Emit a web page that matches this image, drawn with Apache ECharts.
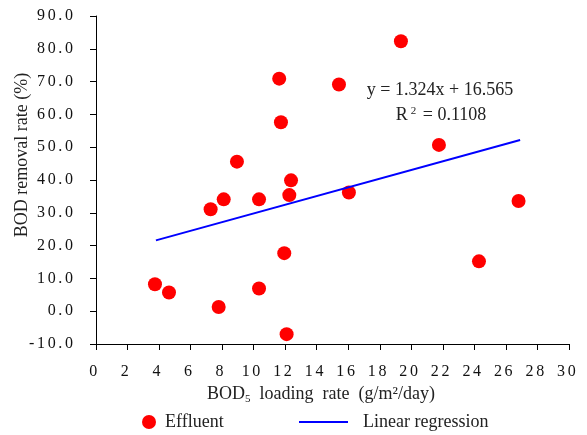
<!DOCTYPE html>
<html>
<head>
<meta charset="utf-8">
<script src="https://cdn.jsdelivr.net/npm/echarts@6/dist/echarts.min.js"></script>
<style>html,body{margin:0;padding:0;background:#fff;}#c{width:587px;height:435px;}</style>
</head>
<body>
<div id="c"></div>
<script>
// Effluent scatter: BOD5 loading rate (g/m2/day) vs BOD removal rate (%)
const loadingRate = [3.74, 4.63, 7.27, 7.78, 8.10, 8.94, 10.34, 10.34, 11.62, 11.73, 11.94, 12.09, 12.26, 12.37, 15.41, 16.04, 19.34, 21.75, 24.29, 26.8];
const removalRate = [8.2, 5.7, 31.1, 1.3, 34.1, 45.6, 34.1, 6.9, 70.9, 57.6, 17.7, -7.0, 35.4, 39.9, 69.1, 36.2, 82.3, 50.7, 15.2, 33.6];
// Linear regression line endpoints
const regX = [3.8, 26.9];
const regY = [21.6, 52.2];
const xTicks = [0, 2, 4, 6, 8, 10, 12, 14, 16, 18, 20, 22, 24, 26, 28, 30];
const yTicks = [-10, 0, 10, 20, 30, 40, 50, 60, 70, 80, 90];
const eqText = 'y = 1.324x + 16.565';
const r2Value = ' = 0.1108';

const FONT = '"Liberation Serif", "DejaVu Serif", serif';
const HS = '\u200A\u200A';
const spaced = s => String(s).split('').join(HS);
const chart = echarts.init(document.getElementById('c'), null, {renderer: 'canvas'});
const scatterData = loadingRate.map((x, i) => [x, removalRate[i]]);
const regData = regX.map((x, i) => [x, regY[i]]);

chart.setOption({
  animation: false,
  backgroundColor: '#fff',
  grid: {left: 96, right: 18, top: 16, bottom: 91},
  xAxis: {
    type: 'value', min: xTicks[0], max: xTicks[xTicks.length - 1], interval: 2,
    axisLine: {show: true, onZero: false, lineStyle: {color: '#000', width: 1}},
    axisTick: {show: true, inside: false, length: 6, lineStyle: {color: '#000'}},
    splitLine: {show: false},
    axisLabel: {margin: 20, color: '#111', fontFamily: FONT, fontSize: 16,
      formatter: v => spaced(v) + HS + HS},
    name: '{n|BOD}{s|5}{n|  loading  rate  (g/m²/day)}',
    nameLocation: 'middle', nameGap: 34,
    nameTextStyle: {
      padding: [0, 23, 0, 0],
      rich: {
        n: {fontFamily: FONT, fontSize: 18, color: '#222'},
        s: {fontFamily: FONT, fontSize: 11, color: '#222', verticalAlign: 'bottom', padding: [10, 0, 0, 0]}
      }
    }
  },
  yAxis: {
    type: 'value', min: yTicks[0], max: yTicks[yTicks.length - 1], interval: 10,
    axisLine: {show: true, onZero: false, lineStyle: {color: '#000', width: 1}},
    axisTick: {show: true, inside: false, length: 6, lineStyle: {color: '#000'}},
    splitLine: {show: false},
    axisLabel: {margin: 23, color: '#111', fontFamily: FONT, fontSize: 16, formatter: v => spaced(v.toFixed(1))}
  },
  legend: [
    {
      data: [{name: 'Effluent', icon: 'circle', itemStyle: {color: '#ff0000', opacity: 1}}],
      left: 137, top: 408, itemWidth: 14, itemHeight: 14,
      textStyle: {fontFamily: FONT, fontSize: 18, color: '#222', padding: [0, 0, 0, 4]}
    },
    {
      data: [{name: 'Linear regression', icon: 'rect'}],
      left: 294, top: 408, itemWidth: 49, itemHeight: 2,
      textStyle: {fontFamily: FONT, fontSize: 18, color: '#222', padding: [0, 0, 0, 10]}
    }
  ],
  graphic: [
    {type: 'text', silent: true, x: 22, y: 155, rotation: Math.PI / 2,
     style: {text: 'BOD removal rate (%)', font: '18px ' + FONT, fill: '#222', align: 'center', verticalAlign: 'middle'}},
    {type: 'text', silent: true, x: 440, y: 90,
     style: {text: eqText, font: '18px ' + FONT, fill: '#222', align: 'center', verticalAlign: 'middle'}},
    {type: 'text', silent: true, x: 441, y: 115,
     style: {text: '{r|R}{p|2}{r|' + r2Value + '}', align: 'center', verticalAlign: 'middle',
       rich: {
         r: {fontFamily: FONT, fontSize: 18, fill: '#222', color: '#222'},
         p: {fontFamily: FONT, fontSize: 11, fill: '#222', color: '#222', verticalAlign: 'top', padding: [0, 2, 8, 3]}
       }}}
  ],
  series: [
    {
      name: 'Effluent', type: 'scatter', data: scatterData,
      symbol: 'circle', symbolSize: 14,
      itemStyle: {color: '#ff0000', opacity: 1}
    },
    {
      name: 'Linear regression', type: 'line', data: regData,
      symbol: 'none', showSymbol: false,
      lineStyle: {color: '#0000ff', width: 2},
      itemStyle: {color: '#0000ff'}
    }
  ]
});
</script>
</body>
</html>
